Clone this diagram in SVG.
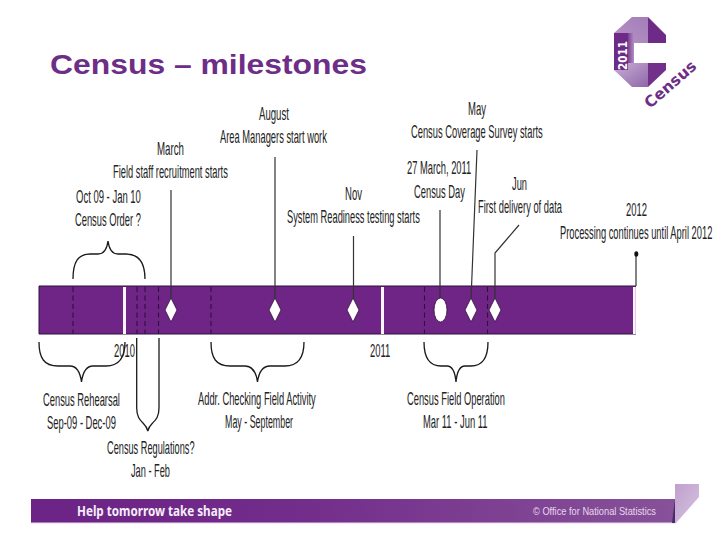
<svg xmlns="http://www.w3.org/2000/svg" width="720" height="540" viewBox="0 0 720 540">
<style>
text{font-family:"Liberation Sans",Arial,sans-serif}
.l{font-size:18px;fill:#222}
.ln{fill:none;stroke:#333;stroke-width:1.2}
.br{fill:none;stroke:#1a1a1a;stroke-width:1.3}
.d{stroke:#2e0f3e;stroke-width:1.1;stroke-dasharray:5 3.5}
.m{fill:#fff;stroke:#2e0f3e;stroke-width:.8}
</style>
<defs>
<linearGradient id="f" x1="0" x2="1" y1="0" y2="0"><stop offset="0" stop-color="#6b2385"/><stop offset=".4" stop-color="#722c8a"/><stop offset="1" stop-color="#875299"/></linearGradient>
<linearGradient id="c1" x1="0" y1="1" x2="1" y2="0"><stop offset="0" stop-color="#b794c6"/><stop offset="1" stop-color="#a47db8"/></linearGradient>
<linearGradient id="c2" x1="0" y1="0" x2="1" y2="1"><stop offset="0" stop-color="#c9b0d6"/><stop offset="1" stop-color="#9066a8"/></linearGradient>
<linearGradient id="c3" x1="0" y1="0" x2="1" y2="0"><stop offset="0" stop-color="#7b3f94"/><stop offset="1" stop-color="#b08fc2"/></linearGradient>
<linearGradient id="fold" x1="0" y1="0" x2="1" y2="1"><stop offset="0" stop-color="#bfa0ce"/><stop offset="1" stop-color="#d6c3df"/></linearGradient>
</defs>
<rect width="720" height="540" fill="#fff"/>
<text x="50" y="74" font-size="28" font-weight="700" fill="#6c2e87" textLength="317" lengthAdjust="spacingAndGlyphs">Census – milestones</text>
<g id="logo">
<path d="M614 33L632 17H648V43H634V44H614Z" fill="url(#c1)"/>
<path d="M648 17L666 35V43H648Z" fill="#6d2a87"/>
<path d="M628 33H634V70H628Z" fill="url(#c3)"/>
<path d="M614 33H628V70H614Z" fill="#6d2a87"/>
<path d="M614 70H628V63H648V87H632Z" fill="url(#c2)"/>
<path d="M648 63H666V70L648 87Z" fill="#72308b"/>
<text transform="translate(627 70) rotate(-90)" font-size="12.500" font-weight="700" fill="#fff" textLength="29" lengthAdjust="spacingAndGlyphs" style="font-family:'DejaVu Sans',sans-serif">2011</text>
<text transform="translate(650 109) rotate(-41)" font-size="15.500" font-weight="700" fill="#6c2e87" textLength="63" style="font-family:'DejaVu Sans',sans-serif">Census</text>
</g>
<g id="timeline">
<rect x="39" y="286" width="597" height="48" fill="#6e2585"/>
<path d="M39 286H636M39 334H636" stroke="#2e0f3e" stroke-width="1.2"/>
<path d="M39 286V334" stroke="#2e0f3e"/>
<rect x="123" y="287" width="3" height="47" fill="#fbf5fc"/>
<rect x="381" y="287" width="3" height="47" fill="#fbf5fc"/>
<rect x="633" y="287" width="2.800" height="47" fill="#fbf5fc"/>
</g>
<g id="connectors">
<path class="ln" d="M171 190V300M275 157V300M353.500 236V300M440 210V300M477 150L471 300M519 225L495 253V298M636 254V286"/>
<ellipse cx="636.300" cy="254" rx="2" ry="2.800" fill="#111"/>
<path class="d" d="M73 287V334M137 287V334M145 287V334M158.500 287V334M211 287V334M424.500 287V334M487.500 287V334"/>
<path class="br" d="M73 279C73 262 78 254 90 254H98C104 254 107 249 108 241C109 249 112 254 118 254H126C138 254 145 262 145 279"/>
<path class="br" d="M39 342C39 358 44 366 58 366H70C76 366 80 371 81.500 382C83 371 87 366 93 366H106C118 366 125 358 125 342"/>
<path class="br" d="M211 342C211 358 216 366 230 366H245C252 366 256 371 257.500 382C259 371 263 366 270 366H285C297 366 304 358 304 342"/>
<path class="br" d="M424 342C424 358 429 366 441 366H447C452 366 455 371 456 382C457 371 460 366 465 366H471C482 366 488 358 488 342"/>
<path class="br" d="M136.700 338V408C136.700 417 140 420 143 423C145 425 147 427 147.800 431C148.600 427 150.600 425 152.600 423C155.600 420 159 417 159 408V338"/>
</g>
<g id="markers">
<path class="m" d="M171 298L177 310L171 322L165 310Z"/>
<path class="m" d="M275 298L281 310L275 322L269 310Z"/>
<path class="m" d="M353 298L359 310L353 322L347 310Z"/>
<ellipse class="m" cx="440.500" cy="310" rx="6.500" ry="12"/>
<path class="m" d="M471 298L477 310L471 322L465 310Z"/>
<path class="m" d="M495 298L501 310L495 322L489 310Z"/>
</g>
<g id="labels">
<text class="l" transform="translate(259 120) scale(.535 1)">August</text>
<text class="l" transform="translate(220 143) scale(.519 1)">Area Managers start work</text>
<text class="l" transform="translate(157 155) scale(.54 1)">March</text>
<text class="l" transform="translate(113 178) scale(.518 1)">Field staff recruitment starts</text>
<text class="l" transform="translate(76 203) scale(.528 1)">Oct 09 - Jan 10</text>
<text class="l" transform="translate(75 226) scale(.519 1)">Census Order ?</text>
<text class="l" transform="translate(345 200) scale(.531 1)">Nov</text>
<text class="l" transform="translate(287 223) scale(.517 1)">System Readiness testing starts</text>
<text class="l" transform="translate(468 115) scale(.529 1)">May</text>
<text class="l" transform="translate(411 138) scale(.519 1)">Census Coverage Survey starts</text>
<text class="l" transform="translate(407 174) scale(.52 1)">27 March, 2011</text>
<text class="l" transform="translate(414 198) scale(.52 1)">Census Day</text>
<text class="l" transform="translate(512 190) scale(.517 1)">Jun</text>
<text class="l" transform="translate(478 213) scale(.518 1)">First delivery of data</text>
<text class="l" transform="translate(626 216) scale(.524 1)">2012</text>
<text class="l" transform="translate(560 239) scale(.518 1)">Processing continues until April 2012</text>
<text class="l" transform="translate(114 357) scale(.524 1)">2010</text>
<text class="l" transform="translate(370 357) scale(.524 1)">2011</text>
<text class="l" transform="translate(43 406) scale(.52 1)">Census Rehearsal</text>
<text class="l" transform="translate(47 429) scale(.522 1)">Sep-09 - Dec-09</text>
<text class="l" transform="translate(198 405) scale(.519 1)">Addr. Checking Field Activity</text>
<text class="l" transform="translate(225 428) scale(.493 1)">May - September</text>
<text class="l" transform="translate(407 405) scale(.518 1)">Census Field Operation</text>
<text class="l" transform="translate(423 428) scale(.523 1)">Mar 11 - Jun 11</text>
<text class="l" transform="translate(107 454) scale(.512 1)">Census Regulations?</text>
<text class="l" transform="translate(131 477) scale(.513 1)">Jan - Feb</text>
</g>
<g id="footer">
<rect x="31" y="499" width="645" height="24" fill="url(#f)"/>
<path d="M31 523H676" stroke="#ecd8f4" stroke-width="1"/>
<path d="M675 484H699V497L676 523H675Z" fill="url(#fold)"/>
<path d="M672 523L675 499V523Z" fill="#4a2a68"/>
<text x="77" y="515.500" font-size="13.500" font-weight="700" fill="#f6eefa" textLength="155" lengthAdjust="spacingAndGlyphs" style="font-family:'Noto Sans',sans-serif">Help tomorrow take shape</text>
<text x="533" y="515" font-size="10.500" fill="#e6d8ec" textLength="123" lengthAdjust="spacingAndGlyphs">© Office for National Statistics</text>
</g>
</svg>
